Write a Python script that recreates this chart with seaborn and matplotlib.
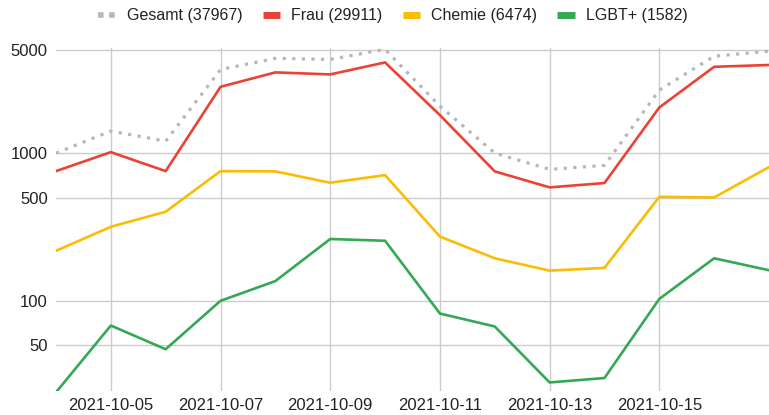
import pandas as pd
import numpy as np
import seaborn as sns
from matplotlib import pyplot as plt
import matplotlib.dates as mdates
from matplotlib.ticker import FixedLocator, NullLocator, FixedFormatter

sns.set_theme(style="white")
plt.rcParams['font.family'] = ['Liberation Sans', 'DejaVu Sans']

dates = pd.date_range("2021-10-04", "2021-10-17", freq="D")

gesamt = [1000, 1410, 1205, 3680, 4380, 4310, 5040, 2080, 1000, 776, 826, 2670, 4530, 4900]
frau = [755, 1015, 755, 2810, 3520, 3410, 4110, 1808, 752, 586, 627, 2036, 3840, 3950]
chemie = [218, 317, 401, 755, 752, 630, 710, 272, 194, 160, 167, 506, 501, 804]
lgbt = [24, 68, 47, 100, 136, 262, 255, 82, 67, 28, 30, 103, 194, 161]

labels = ["Gesamt (37967)", "Frau (29911)", "Chemie (6474)", "LGBT+ (1582)"]
colors = ["#b7b7b7", "#ea4335", "#fbbc04", "#34a853"]

df = pd.DataFrame({
    "date": np.tile(dates, 4),
    "count": gesamt + frau + chemie + lgbt,
    "series": np.repeat(labels, len(dates)),
})

fig = plt.figure(figsize=(7.69, 4.15), dpi=100)
ax = fig.add_axes([0.0728, 0.0578, 0.9272, 0.826])

sns.lineplot(
    ax=ax,
    data=df,
    x="date",
    y="count",
    hue="series",
    hue_order=labels,
    palette=colors,
    linewidth=1.9,
    legend=False,
)
lines = ax.get_lines()
lines[0].set_linestyle((0, (1, 2)))
lines[0].set_linewidth(2.3)
lines[0].set_zorder(1)
for ln in lines[1:]:
    ln.set_solid_joinstyle("round")

ax.set_yscale("log")
ax.set_ylim(24.5, 5130)
ax.set_xlim(dates[0], dates[-1])
ax.yaxis.set_major_locator(FixedLocator([50, 100, 500, 1000, 5000]))
ax.yaxis.set_major_formatter(FixedFormatter(["50", "100", "500", "1000", "5000"]))
ax.yaxis.set_minor_locator(NullLocator())

ax.xaxis.set_major_locator(FixedLocator(mdates.date2num(dates[1::2][:-1])))
ax.xaxis.set_major_formatter(mdates.DateFormatter("%Y-%m-%d"))

ax.grid(True, color="#cccccc", linewidth=1)
ax.set_axisbelow(True)
for s in ax.spines.values():
    s.set_visible(False)
ax.tick_params(axis="both", length=0, labelsize=12, labelcolor="#222222")
ax.tick_params(axis="x", pad=5)
ax.tick_params(axis="y", pad=6)
ax.set_xlabel("")
ax.set_ylabel("")

handles = [plt.Line2D([], [], color=c, linewidth=5, solid_capstyle="butt") for c in colors]
handles[0].set_linestyle((0, (1, 1)))
handles[0].set_linewidth(4)
fig.legend(
    handles, labels,
    loc="upper center", bbox_to_anchor=(0.511, 1.015),
    ncol=4, frameon=False, fontsize=11.5,
    handlelength=1.1, columnspacing=1.25, handletextpad=0.7,
    labelcolor="#222222",
)

plt.savefig("out.png", dpi=100)
